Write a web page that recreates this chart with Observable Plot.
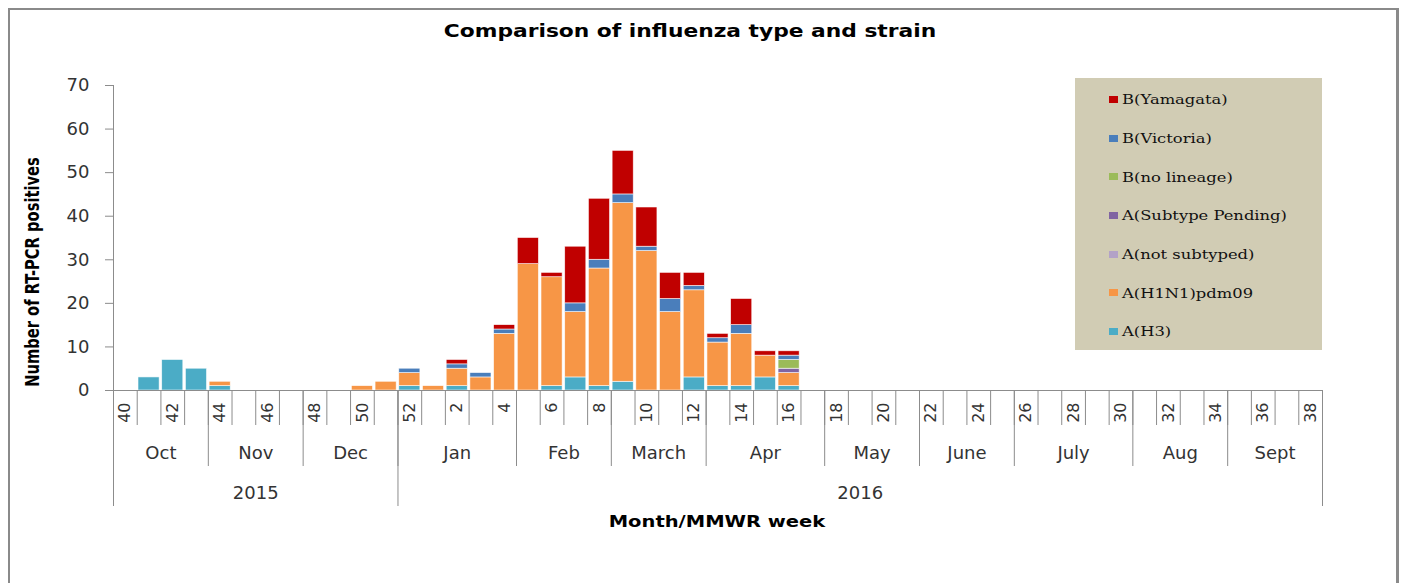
<!DOCTYPE html>
<html>
<head>
<meta charset="utf-8">
<script src="https://cdn.jsdelivr.net/npm/d3@7"></script>
<script src="https://cdn.jsdelivr.net/npm/@observablehq/plot@0.6"></script>
<style>
html, body { margin: 0; padding: 0; background: #fff; overflow: hidden; }
#wrap { position: relative; width: 1403px; height: 583px; overflow: hidden; }
#frame { position: absolute; left: 8px; top: 8px; width: 1391px; height: 700px; box-sizing: border-box;
  border-left: 2px solid #8a8a8a; border-top: 2px solid #8a8a8a; border-right: 3px solid #8a8a8a; }
#chart { position: absolute; left: 0; top: 0; }
#chart svg { display: block; overflow: visible; }
#title { position: absolute; left: 0; width: 1380px; top: 23px; text-align: center;
  font: bold 17px "DejaVu Sans", sans-serif; line-height: 17px; color: #000; transform: scaleX(1.28); transform-origin: 690px 0; }
#xlab { position: absolute; left: 0; width: 1434px; top: 515px; text-align: center;
  font: bold 15px "DejaVu Sans", sans-serif; line-height: 15px; color: #000; transform: scaleX(1.3); transform-origin: 717px 0; }
#ylab { position: absolute; left: -118px; width: 300px; top: 262px; height: 20px; text-align: center;
  font: bold 19px "Liberation Sans Narrow", "DejaVu Sans Condensed", sans-serif; font-stretch: condensed; line-height: 20px; color: #000;
  transform: rotate(-90deg) scaleX(0.86); transform-origin: 150px 10px; }
#legend { position: absolute; left: 1075px; top: 78px; width: 247px; height: 272px; box-sizing: border-box;
  background: #d1ccb4; padding-top: 2px; }
.item { height: 38.7px; display: flex; align-items: center; padding-left: 34px;
  font: 13.5px "DejaVu Serif", serif; color: #111; white-space: nowrap; }
.item .lbl { display: inline-block; transform: scaleX(1.21); transform-origin: 0 50%; }
.sw { width: 9px; height: 7px; margin-right: 4px; flex: none; }
</style>
</head>
<body>
<div id="wrap">
  <div id="frame"></div>
  <div id="chart"></div>
  <div id="title">Comparison of influenza type and strain</div>
  <div id="ylab">Number of RT-PCR positives</div>
  <div id="xlab">Month/MMWR week</div>
  <div id="legend"></div>
</div>
<script>
// MMWR weeks shown on the axis (2015 weeks 40-52, then 2016 weeks 1-38)
const weeks = [40,41,42,43,44,45,46,47,48,49,50,51,52,
  1,2,3,4,5,6,7,8,9,10,11,12,13,14,15,16,17,18,19,20,21,22,23,24,25,26,27,28,29,30,31,32,33,34,35,36,37,38];

// Month groups (number of week columns in each)
const months = ["Oct","Nov","Dec","Jan","Feb","March","Apr","May","June","July","Aug","Sept"];
const monthWeekCounts = [4,4,4,5,4,4,5,4,4,5,4,4];

// Year groups
const years = ["2015","2016"];
const yearWeekCounts = [12,39];

// y-axis ticks
const yTicks = [0,10,20,30,40,50,60,70];

// Series (stack order bottom -> top)
const seriesNames = ["A(H3)","A(H1N1)pdm09","A(not subtyped)","A(Subtype Pending)","B(no lineage)","B(Victoria)","B(Yamagata)"];
const seriesColors = ["#4bacc6","#f79646","#b3a2c7","#8064a2","#9bbb59","#4a7ebb","#c00000"];

//                  40 41 42 43 44 45 46 47 48 49 50 51 52  1  2  3  4  5  6  7  8  9 10 11 12 13 14 15 16 17 18 19 20 21 22 23 24 25 26 27 28 29 30 31 32 33 34 35 36 37 38
const h3        = [ 0, 3, 7, 5, 1, 0, 0, 0, 0, 0, 0, 0, 1, 0, 1, 0, 0, 0, 1, 3, 1, 2, 0, 0, 3, 1, 1, 3, 1, 0, 0, 0, 0, 0, 0, 0, 0, 0, 0, 0, 0, 0, 0, 0, 0, 0, 0, 0, 0, 0, 0];
const h1n1      = [ 0, 0, 0, 0, 1, 0, 0, 0, 0, 0, 1, 2, 3, 1, 4, 3,13,29,25,15,27,41,32,18,20,10,12, 5, 3, 0, 0, 0, 0, 0, 0, 0, 0, 0, 0, 0, 0, 0, 0, 0, 0, 0, 0, 0, 0, 0, 0];
const notSubtyped=[ 0, 0, 0, 0, 0, 0, 0, 0, 0, 0, 0, 0, 0, 0, 0, 0, 0, 0, 0, 0, 0, 0, 0, 0, 0, 0, 0, 0, 0, 0, 0, 0, 0, 0, 0, 0, 0, 0, 0, 0, 0, 0, 0, 0, 0, 0, 0, 0, 0, 0, 0];
const pending   = [ 0, 0, 0, 0, 0, 0, 0, 0, 0, 0, 0, 0, 0, 0, 0, 0, 0, 0, 0, 0, 0, 0, 0, 0, 0, 0, 0, 0, 1, 0, 0, 0, 0, 0, 0, 0, 0, 0, 0, 0, 0, 0, 0, 0, 0, 0, 0, 0, 0, 0, 0];
const noLineage = [ 0, 0, 0, 0, 0, 0, 0, 0, 0, 0, 0, 0, 0, 0, 0, 0, 0, 0, 0, 0, 0, 0, 0, 0, 0, 0, 0, 0, 2, 0, 0, 0, 0, 0, 0, 0, 0, 0, 0, 0, 0, 0, 0, 0, 0, 0, 0, 0, 0, 0, 0];
const victoria  = [ 0, 0, 0, 0, 0, 0, 0, 0, 0, 0, 0, 0, 1, 0, 1, 1, 1, 0, 0, 2, 2, 2, 1, 3, 1, 1, 2, 0, 1, 0, 0, 0, 0, 0, 0, 0, 0, 0, 0, 0, 0, 0, 0, 0, 0, 0, 0, 0, 0, 0, 0];
const yamagata  = [ 0, 0, 0, 0, 0, 0, 0, 0, 0, 0, 0, 0, 0, 0, 1, 0, 1, 6, 1,13,14,10, 9, 6, 3, 1, 6, 1, 1, 0, 0, 0, 0, 0, 0, 0, 0, 0, 0, 0, 0, 0, 0, 0, 0, 0, 0, 0, 0, 0, 0];

const seriesValues = [h3, h1n1, notSubtyped, pending, noLineage, victoria, yamagata];

// tidy table for Plot
const tidy = [];
seriesNames.forEach((s, k) => {
  seriesValues[k].forEach((v, i) => {
    if (v > 0) tidy.push({i, week: weeks[i], series: s, value: v});
  });
});

const cum = arr => { const out = [0]; arr.forEach(c => out.push(out[out.length - 1] + c)); return out; };
const monthEdges = cum(monthWeekCounts);
const yearEdges = cum(yearWeekCounts);
const monthData = months.map((m, k) => ({name: m, mid: (monthEdges[k] + monthEdges[k + 1]) / 2}));
const yearData = years.map((y, k) => ({name: y, mid: (yearEdges[k] + yearEdges[k + 1]) / 2}));
const weekEdges = d3.range(weeks.length + 1);
const weekLabelIdx = d3.range(0, weeks.length, 2);

const axisGray = "#8c8c8c";
const textCol = "#333333";

const chart = Plot.plot({
  width: 1403,
  height: 583,
  marginLeft: 113,
  marginRight: 81,
  marginTop: 85,
  marginBottom: 193,
  x: {domain: [0, weeks.length], axis: null},
  y: {domain: [0, 70], axis: null},
  color: {domain: seriesNames, range: seriesColors},
  style: {background: "transparent", fontFamily: "DejaVu Sans, sans-serif", color: textCol, overflow: "visible"},
  marks: [
    // stacked bars
    Plot.rectY(tidy, Plot.stackY({
      x: "i", x1: "i", x2: d => d.i + 1, y: "value", fill: "series",
      insetLeft: 1.3, insetRight: 1.3, stroke: "#ffffff", strokeWidth: 0.7, strokeOpacity: 0.8
    })),
    // axis lines
    Plot.ruleX([0], {stroke: axisGray}),
    Plot.ruleY([0], {stroke: axisGray, insetLeft: -8}),
    // y ticks & labels
    Plot.ruleY(yTicks, {x1: () => 0, x2: () => 0, insetLeft: -8, stroke: axisGray}),
    Plot.text(yTicks, {x: () => 0, y: d => d, text: d => String(d), textAnchor: "end", dx: -24, fontSize: 18, fill: textCol}),
    // category boundaries (short), month boundaries (medium), year boundaries (long)
    Plot.ruleX(weekEdges, {y1: () => 0, y2: () => 0, insetBottom: -35, stroke: axisGray}),
    Plot.ruleX(monthEdges, {y1: () => 0, y2: () => 0, insetBottom: -76, stroke: axisGray}),
    Plot.ruleX(yearEdges, {y1: () => 0, y2: () => 0, insetBottom: -116, stroke: axisGray}),
    // week labels
    Plot.text(weekLabelIdx, {x: i => i + 0.5, y: () => 0, text: i => String(weeks[i]), rotate: -90,
      textAnchor: "end", dy: 12, fontSize: 16, fill: textCol}),
    // month labels
    Plot.text(monthData, {x: "mid", y: () => 0, text: "name", dy: 63, fontSize: 18, fill: textCol}),
    // year labels
    Plot.text(yearData, {x: "mid", y: () => 0, text: "name", dy: 103, fontSize: 18, fill: textCol})
  ]
});
document.getElementById("chart").appendChild(chart);

// legend (top entry = top of stack)
const legend = document.getElementById("legend");
seriesNames.slice().reverse().forEach(name => {
  const k = seriesNames.indexOf(name);
  const item = document.createElement("div");
  item.className = "item";
  const sw = document.createElement("span");
  sw.className = "sw";
  sw.style.background = seriesColors[k];
  const t = document.createElement("span");
  t.className = "lbl";
  t.textContent = name;
  item.appendChild(sw);
  item.appendChild(t);
  legend.appendChild(item);
});
</script>
</body>
</html>
